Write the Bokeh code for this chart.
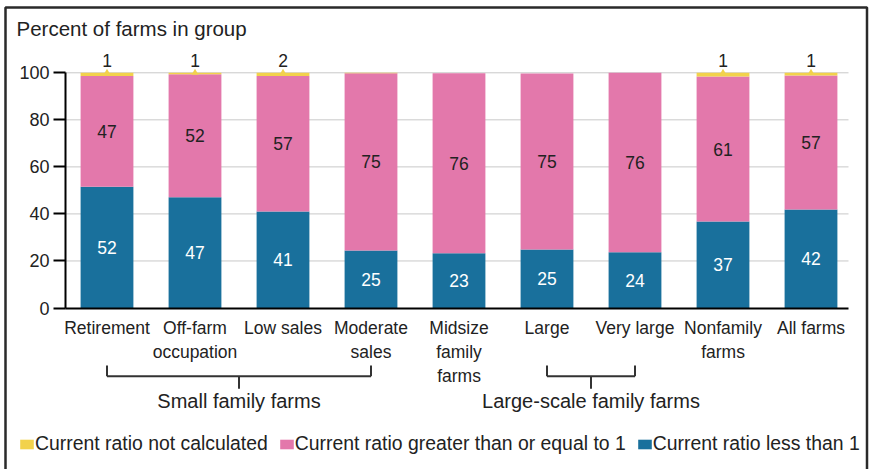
from bokeh.plotting import figure
from bokeh.models import (Range1d, FixedTicker, Label, Legend, LegendItem, LinearAxis,
                          ColumnDataSource, BoxAnnotation)
from bokeh.core.properties import value
from bokeh.embed import file_html
from bokeh.resources import INLINE

# ---------------- data ----------------
categories = ["Retirement", "Off-farm\noccupation", "Low sales", "Moderate\nsales",
              "Midsize\nfamily\nfarms", "Large", "Very large", "Nonfamily\nfarms", "All farms"]
less_than_1 = [51.5, 47.1, 41.0, 24.4, 23.3, 24.9, 23.7, 36.8, 41.9]
greater_equal_1 = [47.1, 52.3, 57.6, 75.4, 76.5, 74.8, 76.3, 61.6, 56.9]
not_calculated = [1.4, 0.6, 1.4, 0.2, 0.0, 0.0, 0.0, 1.6, 1.2]
less_labels = ["52", "47", "41", "25", "23", "25", "24", "37", "42"]
greater_labels = ["47", "52", "57", "75", "76", "75", "76", "61", "57"]
not_calc_labels = ["1", "1", "2", "", "", "", "", "1", "1"]
y_ticks = [0, 20, 40, 60, 80, 100]
group_names = ["Small family farms", "Large-scale family farms"]
group_first = [0, 5]
group_last = [3, 6]
series_names = ["Current ratio not calculated", "Current ratio greater than or equal to 1",
                "Current ratio less than 1"]

BLUE = "#19709c"
PINK = "#e378ab"
YELLOW = "#f2d24c"
DARK = "#222222"
FONT = "Liberation Sans"

# ---------------- geometry (frame spans the whole canvas) ----------------
W, H = 869, 469
PXX = 88.0            # px per category
PXY = 2.352           # px per percent
X0 = -106.5 / PXX
X1 = X0 + W / PXX
Y1 = 307.5 / PXY
Y0 = Y1 - H / PXY


def X(px):
    return X0 + px / PXX


def Y(py):
    return Y1 - py / PXY


n = len(categories)
xs = list(range(n))
top1 = less_than_1
top2 = [a + b for a, b in zip(less_than_1, greater_equal_1)]
top3 = [a + b for a, b in zip(top2, not_calculated)]

src = ColumnDataSource(dict(
    x=xs, less=less_than_1, greater=greater_equal_1, notcalc=not_calculated,
    less_mid=[t / 2 for t in top1],
    greater_mid=[(a + b) / 2 for a, b in zip(top1, top2)],
    top=top3,
    less_lab=less_labels, greater_lab=greater_labels, nc_lab=not_calc_labels,
))

p = figure(width=W, height=H, output_backend="svg", toolbar_location=None,
           x_range=Range1d(X0, X1), y_range=Range1d(Y0, Y1),
           x_axis_location=None, y_axis_location=None,
           min_border_left=0, min_border_right=0, min_border_top=0, min_border_bottom=0)
p.outline_line_color = None
p.background_fill_color = "white"
p.border_fill_color = "white"
p.grid.visible = False

AX_L = X(65)
AX_R = X(848)

# gridlines
p.segment(x0=[AX_L] * 5, x1=[AX_R] * 5, y0=y_ticks[1:], y1=y_ticks[1:],
          line_color="#c8c8c8", line_width=1)

renderers = p.vbar_stack(["less", "greater", "notcalc"], x="x", width=0.6,
                         color=[BLUE, PINK, YELLOW], line_color=None, source=src)

# caret markers on yellow segments with a label
caret_x = [x for x, l in zip(xs, not_calc_labels) if l]
caret_y = [t for t, l in zip(top3, not_calc_labels) if l]
p.scatter(caret_x, caret_y, marker="triangle", size=7, color=YELLOW, line_color=None)

p.text(x="x", y="less_mid", text="less_lab", source=src, text_color="white",
       text_font=value(FONT), text_font_size="17.5px", text_align="center", text_baseline="middle")
p.text(x="x", y="greater_mid", text="greater_lab", source=src, text_color=DARK,
       text_font=value(FONT), text_font_size="17.5px", text_align="center", text_baseline="middle")
p.text(x="x", y="top", text="nc_lab", source=src, text_color=DARK, y_offset=-12.8,
       text_font=value(FONT), text_font_size="17.5px", text_align="center", text_baseline="middle")

# axes
yax = LinearAxis(fixed_location=AX_L, ticker=FixedTicker(ticks=y_ticks), bounds=(0, 100))
yax.axis_line_width = 2
yax.axis_line_color = "black"
yax.major_tick_line_width = 2
yax.major_tick_line_color = "black"
yax.major_tick_out = 12
yax.major_tick_in = 0
yax.minor_tick_line_color = None
yax.major_label_standoff = 4
yax.major_label_text_font = FONT
yax.major_label_text_font_size = "18px"
yax.major_label_text_color = DARK
p.add_layout(yax, "left")

xax = LinearAxis(fixed_location=0, ticker=FixedTicker(ticks=xs), bounds=(AX_L, AX_R))
xax.major_label_overrides = {i: c for i, c in enumerate(categories)}
xax.axis_line_width = 2
xax.axis_line_color = "black"
xax.major_tick_line_color = None
xax.major_tick_out = 0
xax.major_tick_in = 0
xax.minor_tick_line_color = None
xax.major_label_standoff = 10
xax.major_label_text_font = FONT
xax.major_label_text_font_size = "17.5px"
xax.major_label_text_color = DARK
p.add_layout(xax, "below")

# title
p.add_layout(Label(x=X(16), y=Y(27.7), text="Percent of farms in group",
                   text_font=FONT, text_font_size="20.5px", text_color=DARK,
                   text_baseline="middle", text_align="left"))

# group brackets
bx0, bx1, by0, by1 = [], [], [], []
yt, yh, ys = Y(365), Y(375.7), Y(388.3)
for name, a, b in zip(group_names, group_first, group_last):
    mid = (a + b) / 2
    for (xa, ya, xb, yb) in [(a, yt, a, yh), (b, yt, b, yh), (a, yh, b, yh), (mid, yh, mid, ys)]:
        bx0.append(xa); by0.append(ya); bx1.append(xb); by1.append(yb)
    p.add_layout(Label(x=mid, y=Y(400.3), text=name, text_font=FONT, text_font_size="20px",
                       text_color=DARK, text_align="center", text_baseline="middle"))
p.segment(x0=bx0, y0=by0, x1=bx1, y1=by1, line_color="#333333", line_width=2)

# legend
legend = Legend(items=[LegendItem(label=series_names[0], renderers=[renderers[2]]),
                       LegendItem(label=series_names[1], renderers=[renderers[1]]),
                       LegendItem(label=series_names[2], renderers=[renderers[0]])],
                orientation="horizontal", location=(18, 14),
                glyph_width=17, glyph_height=12, label_standoff=0, spacing=10,
                padding=0, margin=0, border_line_color=None, background_fill_alpha=0,
                label_text_font=FONT, label_text_font_size="19.4px", label_text_color=DARK,
                label_height=12)
p.add_layout(legend)

# outer frame
p.add_layout(BoxAnnotation(left=X(5), right=X(866.5), top=Y(7), bottom=Y(490),
                           fill_alpha=0, line_color="#2a2a2a", line_alpha=1.0, line_width=2.5))

open("out.html", "w").write(file_html(p, INLINE))
